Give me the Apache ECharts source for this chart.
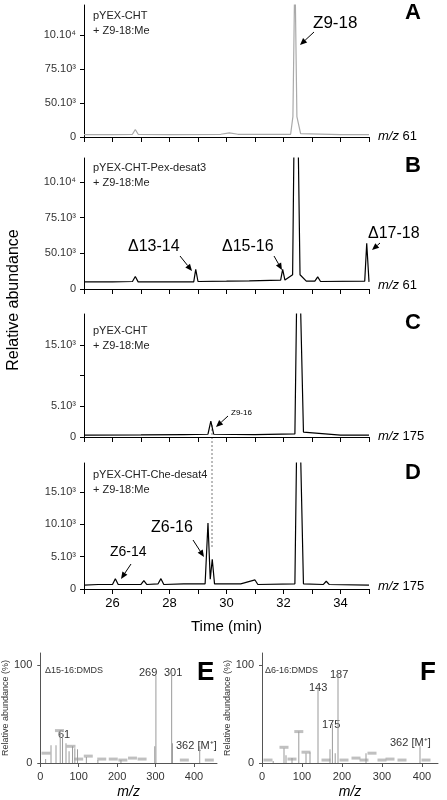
<!DOCTYPE html>
<html><head><meta charset="utf-8">
<script src="https://cdn.jsdelivr.net/npm/echarts@6/dist/echarts.min.js"></script>
<style>body{margin:0;background:#fff}#c{width:447px;height:800px}</style>
</head><body><div id="c"></div>
<script>
// chromatogram traces, [time (min), abundance]
// A/B abundance in axis units (0, 50k, 75k, 100k labelled), C/D in thousands
var traceA = [[25,0.07],[26,0.07],[26.7,0.08],[26.8,0.22],[26.9,0.08],[28,0.07],[29.8,0.08],[30.1,0.12],[30.4,0.08],[32.25,0.08],[32.33,0.6],[32.4,5],[32.47,0.6],[32.6,0.1],[34,0.07],[35,0.07]];
var traceB = [[25,0.2],[26,0.2],[26.7,0.21],[26.8,0.35],[26.9,0.2],[28.85,0.2],[28.92,0.55],[29.0,0.21],[30,0.22],[30.8,0.23],[31.9,0.25],[31.97,0.55],[32.05,0.25],[32.32,0.4],[32.38,5],[32.5,5],[32.58,0.4],[32.8,0.22],[33.1,0.22],[33.2,0.34],[33.3,0.21],[34.85,0.22],[34.92,1.28],[35,0.2]];
var traceC = [[25,0.3],[27,0.35],[28.5,0.4],[29.35,0.45],[29.45,2.6],[29.55,0.45],[31,0.4],[32.4,0.5],[32.47,25],[32.58,25],[32.7,0.8],[34,0.3],[35,0.3]];
var traceD = [[25,0.6],[25.5,0.7],[26,0.7],[26.1,1.6],[26.2,0.7],[27,0.7],[27.1,1.3],[27.2,0.7],[27.6,0.8],[27.7,1.6],[27.8,0.7],[28.5,0.8],[29.25,0.8],[29.35,10.2],[29.43,1.5],[29.5,4.6],[29.58,0.8],[30.5,0.8],[31,1.4],[31.1,0.7],[32.4,0.8],[32.47,25],[32.58,25],[32.7,0.8],[33.4,0.7],[33.5,1.2],[33.6,0.7],[35,0.6]];
var yLabelsAB = ['0', '50.10³', '75.10³', '10.10⁴'];
var timeTicks = [26, 28, 30, 32, 34];
// mass spectra, [m/z position on drawn axis, %]
var specE = [[14,4],[28,18],[41,18],[52,33],[58,30],[67,20],[75,12],[84,17],[90,15],[97,14],[120,6],[150,3],[210,3],[298,17],[301,89],[342,93],[344,20],[415,17]];
var specF = [[28,2],[55,15],[60,8],[75,5],[92,32],[110,10],[120,11],[140,77],[170,14],[176,40],[183,10],[190,92],[260,10],[395,17]];
var tagsE = [[15,10],[100,4],[125,7],[160,4],[190,4],[215,3],[240,5],[265,4],[375,3],[440,3],[50,33],[80,17]];
var tagsF = [[15,3],[55,16],[75,4],[92,32],[110,11],[160,3],[205,3],[235,5],[255,3],[275,10],[300,3],[320,4],[350,3],[410,3]];

var FONT = 'Liberation Sans, Arial, sans-serif';
var chart = echarts.init(document.getElementById('c'));
var grids = [
  {left: 84, right: 78, top: 5, height: 132},
  {left: 84, right: 78, top: 158, height: 131},
  {left: 84, right: 78, top: 314, height: 123},
  {left: 84, right: 78, top: 463, height: 126},
  {left: 39, width: 178, top: 653, height: 111},
  {left: 262, width: 176, top: 653, height: 111}
];
var lineAx = {lineStyle: {color: '#000', width: 1}};
function timeAxis(i, labels) {
  return {
    type: 'value', gridIndex: i, min: 25, max: 35, interval: 1,
    axisLine: lineAx, axisTick: {length: 5, lineStyle: {color: '#000'}}, splitLine: {show: false},
    axisLabel: {show: labels, fontFamily: FONT, fontSize: 13, color: '#000',
      formatter: function (v) { return timeTicks.indexOf(v) >= 0 ? v : ''; }},
    name: labels ? 'Time (min)' : '', nameLocation: 'middle', nameGap: 30,
    nameTextStyle: {fontFamily: FONT, fontSize: 15, color: '#000'}
  };
}
function abAxis(i, max, interval, fmt) {
  return {
    type: 'value', gridIndex: i, min: 0, max: max, interval: interval,
    axisLine: {show: true, lineStyle: {color: '#000'}}, axisTick: {show: true, length: 4, lineStyle: {color: '#000'}},
    splitLine: {show: false},
    axisLabel: {fontFamily: FONT, fontSize: 11, color: '#333', formatter: fmt, showMaxLabel: false}
  };
}
function mzAxis(i, max) {
  return {
    type: 'value', gridIndex: i, min: 0, max: max, interval: 100,
    axisLine: {lineStyle: {color: '#555'}}, axisTick: {length: 4, lineStyle: {color: '#555'}}, splitLine: {show: false},
    axisLabel: {fontFamily: FONT, fontSize: 11, color: '#333', showMaxLabel: false},
    name: 'm/z', nameLocation: 'middle', nameGap: 22,
    nameTextStyle: {fontFamily: FONT, fontSize: 14, fontStyle: 'italic', color: '#000'}
  };
}
function pctAxis(i) {
  return {
    type: 'value', gridIndex: i, min: 0, max: 112, interval: 100,
    axisLine: {show: true, lineStyle: {color: '#555'}}, axisTick: {show: true, length: 3, lineStyle: {color: '#555'}},
    splitLine: {show: false}, axisLabel: {fontFamily: FONT, fontSize: 11, color: '#333', showMaxLabel: false},
    name: 'Relative abundance (%)', nameLocation: 'middle', nameGap: 27,
    nameTextStyle: {fontFamily: FONT, fontSize: 9, color: '#333'}
  };
}
function trace(i, data, color) {
  return {type: 'line', xAxisIndex: i, yAxisIndex: i, data: data, showSymbol: false, clip: true,
    lineStyle: {color: color, width: 1.2}, animation: false};
}
function spec(i, data) {
  return {type: 'bar', xAxisIndex: i, yAxisIndex: i, data: data, barWidth: 1,
    itemStyle: {color: '#9a9a9a'}, animation: false};
}
function tags(i, data) {
  return {type: 'scatter', xAxisIndex: i, yAxisIndex: i, data: data, symbol: 'rect', symbolSize: [9, 3],
    itemStyle: {color: '#b0b0b0'}, animation: false, z: 1};
}
var fmtAB = function (v) { return yLabelsAB[v] || ''; };
chart.setOption({
  animation: false,
  grid: grids,
  xAxis: [timeAxis(0, false), timeAxis(1, false), timeAxis(2, false), timeAxis(3, true), mzAxis(4, 460), mzAxis(5, 440)],
  yAxis: [abAxis(0, 3.88, 1, fmtAB), abAxis(1, 3.67, 1, fmtAB),
    abAxis(2, 20, 5, function (v) { return v === 5 ? '5.10³' : v === 15 ? '15.10³' : v === 0 ? '0' : ''; }),
    abAxis(3, 19.5, 5, function (v) { return v === 0 ? '0' : v + '.10³'; }),
    pctAxis(4), pctAxis(5)],
  series: [trace(0, traceA, '#aaaaaa'), trace(1, traceB, '#000'), trace(2, traceC, '#000'), trace(3, traceD, '#000'),
    spec(4, specE), spec(5, specF), tags(4, tagsE), tags(5, tagsF)]
});

// annotations
var g = [];
function txt(x, y, s, size, opt) {
  g.push({type: 'text', x: x, y: y, style: Object.assign({text: s, fontFamily: FONT, fontSize: size, fill: '#000'}, opt || {})});
}
function arrow(x1, y1, x2, y2) {
  var a = Math.atan2(y2 - y1, x2 - x1), L = 7, w = 3;
  var bx = x2 - L * Math.cos(a), by = y2 - L * Math.sin(a);
  g.push({type: 'line', shape: {x1: x1, y1: y1, x2: bx, y2: by}, style: {stroke: '#000', lineWidth: 1}});
  g.push({type: 'polygon', shape: {points: [[x2, y2], [bx + w * Math.sin(a), by - w * Math.cos(a)], [bx - w * Math.sin(a), by + w * Math.cos(a)]]}, style: {fill: '#000'}});
}
function mz(x, y, n) {
  g.push({type: 'text', x: x, y: y, style: {text: '{i|m/z} ' + n, fontFamily: FONT, fontSize: 13, fill: '#000', verticalAlign: 'middle',
    rich: {i: {fontStyle: 'italic', fontSize: 13, fontFamily: FONT}}}});
}
var bold = {fontWeight: 'bold'};
txt(93, 8, 'pYEX-CHT\n+ Z9-18:Me', 11, {lineHeight: 15, fill: '#222'});
txt(93, 160, 'pYEX-CHT-Pex-desat3\n+ Z9-18:Me', 11, {lineHeight: 15, fill: '#222'});
txt(93, 323, 'pYEX-CHT\n+ Z9-18:Me', 11, {lineHeight: 15, fill: '#222'});
txt(93, 467, 'pYEX-CHT-Che-desat4\n+ Z9-18:Me', 11, {lineHeight: 15, fill: '#222'});
txt(405, 2, 'A', 22, bold); txt(405, 155, 'B', 22, bold); txt(405, 312, 'C', 22, bold); txt(405, 462, 'D', 22, bold);
mz(378, 136, '61'); mz(378, 285, '61'); mz(378, 436, '175'); mz(378, 586, '175');
txt(313, 15, 'Z9-18', 17); arrow(314, 32, 300, 45);
txt(128, 239, 'Δ13-14', 16); arrow(180, 256, 192, 271);
txt(222, 239, 'Δ15-16', 16); arrow(274, 256, 282, 270);
txt(368, 226, 'Δ17-18', 16); arrow(380, 243, 372, 250);
txt(231, 409, 'Z9-16', 8); arrow(228, 416, 216, 427);
txt(151, 520, 'Z6-16', 16); arrow(193, 540, 204, 557);
txt(110, 545, 'Z6-14', 14); arrow(131, 564, 121, 579);
g.push({type: 'line', shape: {x1: 212, y1: 425, x2: 212, y2: 548}, style: {stroke: '#555', lineWidth: 0.8, lineDash: [2, 2]}});
g.push({type: 'text', x: 14, y: 300, rotation: Math.PI / 2,
  style: {text: 'Relative abundance', fontFamily: FONT, fontSize: 16, fill: '#000', align: 'center', verticalAlign: 'middle'}});
// spectra labels
txt(45, 666, 'Δ15-16:DMDS', 9, {fill: '#333'}); txt(197, 660, 'E', 26, bold);
txt(139, 667, '269', 11, {fill: '#333'}); txt(164, 667, '301', 11, {fill: '#333'});
txt(58, 729, '61', 11, {fill: '#333'}); txt(176, 740, '362 [M⁺]', 11, {fill: '#333'});
txt(265, 666, 'Δ6-16:DMDS', 9, {fill: '#333'}); txt(420, 660, 'F', 26, bold);
txt(309, 682, '143', 11, {fill: '#333'}); txt(330, 669, '187', 11, {fill: '#333'});
txt(322, 719, '175', 11, {fill: '#333'}); txt(390, 737, '362 [M⁺]', 11, {fill: '#333'});
chart.setOption({graphic: g});
</script></body></html>
